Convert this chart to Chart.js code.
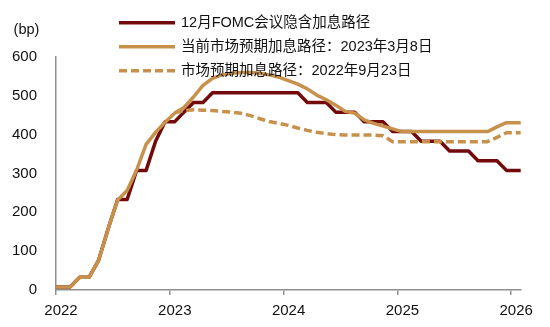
<!DOCTYPE html>
<html>
<head>
<meta charset="utf-8">
<script src="https://cdn.jsdelivr.net/npm/chart.js@4"></script>
<style>
  html, body { margin: 0; padding: 0; background: #fff; }
  #wrap { width: 550px; height: 327px; }
</style>
</head>
<body>
<div id="wrap"><canvas id="c" width="550" height="327"></canvas></div>
<script>
// Fed funds rate paths (bp), one value per month from Dec 2021 to Feb 2026
const firstMonth = { year: 2021, month: 12 };
const monthCount = 51;

const fomcDecPath = [
  8, 8, 8, 33, 33, 77, 158, 233, 233, 308, 308, 383, 433, 433, 458, 483, 483,
  508, 508, 508, 508, 508, 508, 508, 508, 508, 508,
  483, 483, 483, 458, 458, 458, 433, 433, 433,
  408, 408, 408, 383, 383, 383, 358, 358, 358, 333, 333, 333, 308, 308, 308
];

const marketMar2023 = [
  8, 8, 8, 33, 33, 77, 158, 232, 256, 309, 375, 406, 432, 455, 470, 497, 527,
  545, 554, 558, 560, 560, 558, 554, 548, 539, 530, 518, 502, 490, 476, 460,
  455, 438, 429, 422, 415, 408,
  408, 408, 408, 408, 408, 408, 408, 408, 408, 420, 431, 431, 431
];

const marketSep2022 = [
  null, null, null, null, null, null, null, null, null, null, null, null, null,
  456, 462, 464, 463, 462, 460, 458, 455, 449, 441, 434, 429, 424, 417, 411,
  406, 403, 400, 399, 399, 399, 399, 397,
  382, 382, 382, 382, 382, 382, 382, 382, 382, 382, 382, 393, 405, 405, 405
];

const seriesNames = [
  '12月FOMC会议隐含加息路径',
  '当前市场预期加息路径：2023年3月8日',
  '市场预期加息路径：2022年9月23日'
];

const yearLabels = ['2022', '2023', '2024', '2025', '2026'];
const unitLabel = '(bp)';

// x position of each month: months since Jan 2022, plotted mid-month
const monthPos = [];
for (let i = 0; i < monthCount; i++) {
  const m = (firstMonth.year - 2022) * 12 + (firstMonth.month - 1) + i;
  monthPos.push(m + 0.5);
}
const yearTicks = yearLabels.map((y) => (Number(y) - 2022) * 12);

const toPoints = (arr) => arr.map((v, i) => ({ x: monthPos[i], y: v }));

const FONT = '"Liberation Sans", "Noto Sans CJK SC", sans-serif';
const RED = '#720a0c';
const TAN = '#c8914b';
const AXIS = '#8f8f8f';

Chart.defaults.font.family = FONT;
Chart.defaults.color = '#111';

// Key and unit label drawn on top of the plot
const seriesKey = {
  id: 'seriesKey',
  afterDraw(chart) {
    const ctx = chart.ctx;
    ctx.save();
    ctx.font = '14.5px ' + FONT;
    ctx.fillStyle = '#111';
    ctx.textBaseline = 'middle';
    ctx.textAlign = 'center';
    ctx.fillText(unitLabel, 26.5, 29.5);
    ctx.textAlign = 'left';
    chart.data.datasets.forEach((ds, i) => {
      const y = 22.7 + i * 24;
      ctx.strokeStyle = ds.borderColor;
      ctx.lineWidth = 3.4;
      ctx.setLineDash(ds.borderDash || []);
      ctx.beginPath();
      ctx.moveTo(119, y);
      ctx.lineTo(175, y);
      ctx.stroke();
      ctx.setLineDash([]);
      ctx.fillText(ds.label, 181, y + 0.5);
    });
    ctx.restore();
  }
};

new Chart(document.getElementById('c'), {
  type: 'line',
  data: {
    datasets: [
      {
        label: seriesNames[0],
        data: toPoints(fomcDecPath),
        borderColor: RED,
        borderWidth: 3.5,
        order: 3
      },
      {
        label: seriesNames[1],
        data: toPoints(marketMar2023),
        borderColor: TAN,
        borderWidth: 3.5,
        order: 2
      },
      {
        label: seriesNames[2],
        data: toPoints(marketSep2022),
        borderColor: TAN,
        borderWidth: 3.5,
        borderDash: [8, 4],
        order: 1
      }
    ]
  },
  options: {
    responsive: false,
    animation: false,
    devicePixelRatio: 1,
    layout: { padding: { top: 57, right: 29.3, left: 0, bottom: 0 } },
    elements: {
      point: { radius: 0, hoverRadius: 0 },
      line: { tension: 0, borderJoinStyle: 'round', borderCapStyle: 'butt' }
    },
    plugins: {
      legend: { display: false },
      tooltip: { enabled: false }
    },
    scales: {
      x: {
        type: 'linear',
        min: 0,
        max: 49,
        afterFit(scale) { scale.height = 37; },
        afterBuildTicks(scale) { scale.ticks = yearTicks.map((v) => ({ value: v })); },
        grid: {
          drawOnChartArea: false,
          drawTicks: true,
          tickLength: 5,
          color: AXIS,
          lineWidth: 1.5
        },
        border: { display: true, color: AXIS, width: 1.5 },
        ticks: {
          autoSkip: false,
          maxRotation: 0,
          padding: 7,
          labelOffset: 5,
          font: { size: 15 },
          color: '#111',
          callback: (v, i) => yearLabels[i]
        }
      },
      y: {
        min: 0,
        max: 600,
        afterFit(scale) { scale.width = 56; },
        grid: { drawOnChartArea: false, drawTicks: false },
        border: { display: true, color: AXIS, width: 1.5 },
        ticks: {
          stepSize: 100,
          padding: 19,
          font: { size: 15 },
          color: '#111'
        }
      }
    }
  },
  plugins: [seriesKey]
});
</script>
</body>
</html>
